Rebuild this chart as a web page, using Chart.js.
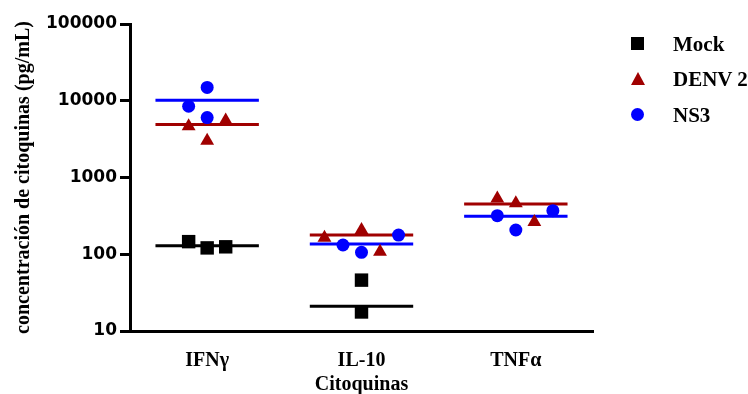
<!DOCTYPE html>
<html>
<head>
<meta charset="utf-8">
<script src="https://cdn.jsdelivr.net/npm/chart.js"></script>
<style>
body { margin: 0; background: #fff; }
#wrap { position: relative; width: 748px; height: 394px; }
.item { position: absolute; left: 628px; height: 24px; line-height: 24px;
        font: bold 21px "Liberation Serif", serif; color: #000; white-space: nowrap; }
.item span.mk { position: absolute; left: 3px; }
.item span.txt { position: absolute; left: 45px; }
.sq { top: 5px; width: 13px; height: 13px; background: #000; }
.tri { top: 5px; width: 0; height: 0; border-left: 7px solid transparent;
       border-right: 7px solid transparent; border-bottom: 13px solid #A00000; }
.dot { top: 5px; width: 13px; height: 13px; border-radius: 50%; background: #0000FF; }
</style>
</head>
<body>
<div id="wrap">
  <canvas id="chart1" width="748" height="394"></canvas>
  <div class="item" style="top:32px"><span class="mk sq"></span><span class="txt">Mock</span></div>
  <div class="item" style="top:67px"><span class="mk tri"></span><span class="txt">DENV 2</span></div>
  <div class="item" style="top:103px"><span class="mk dot"></span><span class="txt">NS3</span></div>
</div>
<script>
// values (pg/mL), one inner list per cytokine
const categories = ['IFNγ', 'IL-10', 'TNFα'];
const mockValues = [[146, 121, 125], [46, 17.7], []];
const denvValues = [[4640, 5510, 3020], [164, 207, 108], [531, 461, 264]];
const ns3Values = [[14900, 8480, 6030], [132, 106, 178], [318, 207, 370]];
// horizontal spread of the dots inside a column (in dot steps)
const mockSpread = [[-1, 0, 1], [0, 0], []];
const denvSpread = [[-1, 1, 0], [-2, 0, 1], [-1, 0, 1]];
const ns3Spread = [[0, -1, 0], [-1, 0, 2], [-1, 0, 2]];
// mean bars
const mockMeans = [129, 21, null];
const denvMeans = [4890, 178, 453];
const ns3Means = [10150, 136, 312];
const yTicks = [10, 100, 1000, 10000, 100000];

const step = 0.12, half = 0.335;
const RED = '#A00000', BLUE = '#0000FF', BLACK = '#000000';

function points(values, spread) {
  var d = [];
  values.forEach(function (col, i) {
    col.forEach(function (v, j) { d.push({x: i + spread[i][j] * step, y: v}); });
  });
  return d;
}
function meanLine(means) {
  var d = [];
  means.forEach(function (m, i) {
    if (m == null) return;
    d.push({x: i - half, y: m}, {x: i + half, y: m}, {x: i + half, y: null});
  });
  return d;
}
function lineSet(data, color) {
  return {data: data, showLine: true, borderColor: color, borderWidth: 3,
          pointRadius: 0, spanGaps: false, order: 2};
}

var ctx = document.getElementById('chart1').getContext('2d');
var chart1 = new Chart(ctx, {
  type: 'scatter',
  data: {
    datasets: [
      {label: 'Mock', data: points(mockValues, mockSpread), pointStyle: 'rect', pointRadius: 9.5,
       backgroundColor: BLACK, borderColor: BLACK, borderWidth: 0, order: 0},
      {label: 'DENV 2', data: points(denvValues, denvSpread), pointStyle: 'triangle', pointRadius: 8,
       backgroundColor: RED, borderColor: RED, borderWidth: 0, order: 0},
      {label: 'NS3', data: points(ns3Values, ns3Spread), pointStyle: 'circle', pointRadius: 6.5,
       backgroundColor: BLUE, borderColor: BLUE, borderWidth: 0, order: 0},
      lineSet(meanLine(mockMeans), BLACK),
      lineSet(meanLine(denvMeans), RED),
      lineSet(meanLine(ns3Means), BLUE)
    ]
  },
  options: {
    responsive: false,
    animation: false,
    layout: {padding: {left: 0, top: 24, right: 155, bottom: 0}},
    plugins: {legend: {display: false}, tooltip: {enabled: false}},
    scales: {
      x: {
        type: 'linear', min: -0.5, max: 2.5,
        afterFit: function (s) { s.height = 63; },
        afterBuildTicks: function (s) { s.ticks = categories.map(function (c, i) { return {value: i}; }); },
        grid: {display: false},
        border: {display: true, color: BLACK, width: 3},
        ticks: {
          color: BLACK, padding: 10, maxRotation: 0,
          font: {family: 'Liberation Serif', weight: 'bold', size: 20},
          callback: function (v) { return categories[v]; }
        },
        title: {display: true, text: 'Citoquinas', color: BLACK, padding: {top: 0, bottom: -1},
                font: {family: 'Liberation Serif', weight: 'bold', size: 20, lineHeight: 1}}
      },
      y: {
        type: 'logarithmic', min: 10, max: 100000,
        afterFit: function (s) { s.width = 130; },
        afterBuildTicks: function (s) { s.ticks = yTicks.map(function (v) { return {value: v}; }); },
        grid: {display: true, drawOnChartArea: false, drawTicks: true, tickLength: 10,
               color: BLACK, lineWidth: 3},
        border: {display: true, color: BLACK, width: 3},
        ticks: {
          color: BLACK, padding: 3,
          font: {family: 'DejaVu Sans', weight: 'bold', size: 17},
          callback: function (v) { return String(v); }
        },
        title: {display: true, text: 'concentración de citoquinas (pg/mL)', color: BLACK,
                padding: {top: 14, bottom: 0},
                font: {family: 'Liberation Serif', weight: 'bold', size: 20, lineHeight: 1}}
      }
    }
  }
});
</script>
</body>
</html>
